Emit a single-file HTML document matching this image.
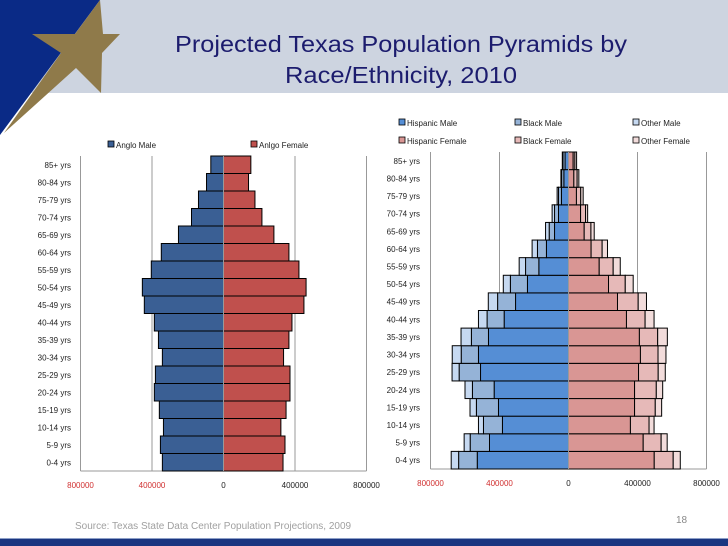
<!DOCTYPE html>
<html><head><meta charset="utf-8"><style>
html,body{margin:0;padding:0;background:#fff}
svg{display:block;font-family:"Liberation Sans",sans-serif}
</style></head><body>
<svg id="s" width="728" height="546" viewBox="0 0 728 546">
<rect x="0" y="0" width="728" height="93" fill="#cdd4e0"/>
<polygon points="0,0 100,0 0,135" fill="#0a2a86"/>
<polygon points="100,0 75,34 32,34 61,53 4,133 76,68 101,93 102,53 120,34 103,34" fill="#8f7a4a"/>
<text x="401" y="52" text-anchor="middle" font-size="23" fill="#1c1c6e" textLength="452" lengthAdjust="spacingAndGlyphs">Projected Texas Population Pyramids by</text>
<text x="401" y="83" text-anchor="middle" font-size="23" fill="#1c1c6e" textLength="232" lengthAdjust="spacingAndGlyphs">Race/Ethnicity, 2010</text>
<g id="left"></g>
<g id="right"></g>
<text x="75" y="529" font-size="10" fill="#a0a0a0">Source: Texas State Data Center Population Projections, 2009</text>
<text x="676" y="523" font-size="10" fill="#888">18</text>
<rect x="0" y="538" width="728" height="1" fill="#8ea0c8"/>
<rect x="0" y="539" width="728" height="7" fill="#1a3580"/>
</svg>
<script>
const ages = ["0-4 yrs","5-9 yrs","10-14 yrs","15-19 yrs","20-24 yrs","25-29 yrs","30-34 yrs","35-39 yrs","40-44 yrs","45-49 yrs","50-54 yrs","55-59 yrs","60-64 yrs","65-69 yrs","70-74 yrs","75-79 yrs","80-84 yrs","85+ yrs"];
const angloMale = [342000,353000,336000,359000,387000,381000,342000,364000,387000,443000,454000,404000,348000,252000,179000,140000,95000,71000];
const angloFemale = [333000,344000,321000,350000,372000,372000,336000,366000,383000,450000,462000,422000,366000,282000,215000,176000,140000,153000];
const hispMale = [529000,458000,383000,406000,431000,510000,522000,464000,373000,307000,238000,172000,128000,81000,58000,41000,27000,20000];
const blackMale = [108000,112000,110000,128000,126000,124000,100000,99000,99000,104000,99000,77000,52000,31000,23000,17000,13000,12000];
const otherMale = [43000,35000,29000,37000,43000,41000,52000,60000,50000,54000,41000,37000,31000,21000,14000,8000,4000,4000];
const hispFemale = [497000,433000,359000,383000,383000,406000,417000,411000,336000,284000,232000,178000,131000,91000,70000,46000,31000,27000];
const blackFemale = [110000,104000,108000,120000,126000,114000,102000,106000,108000,120000,97000,81000,64000,39000,29000,25000,19000,10000];
const otherFemale = [41000,35000,29000,37000,37000,41000,46000,56000,52000,48000,46000,41000,31000,19000,12000,14000,10000,10000];
const tickVals = [-800000,-400000,0,400000,800000];
const tickLabels = ["800000","400000","0","400000","800000"];

const NS="http://www.w3.org/2000/svg";
function mk(parent,tag,attrs,text){const e=document.createElementNS(NS,tag);for(const k in attrs)e.setAttribute(k,attrs[k]);if(text!==undefined)e.textContent=text;parent.appendChild(e);return e;}

function pyramid(g,cfg){
  const x=v=>cfg.cx+v*cfg.scale;
  const rowH=(cfg.bottom-cfg.top)/ages.length;
  const y=i=>cfg.bottom-(i+1)*rowH;
  tickVals.forEach((t,k)=>{
    if(t!==0){const l=mk(g,'line',{x1:x(t),x2:x(t),y1:cfg.top,y2:cfg.bottom,stroke:'#999','stroke-width':1});
    
    }
    const tl=mk(g,'text',{x:x(t),y:cfg.bottom+17,'text-anchor':'middle','font-size':8,fill:t<0?'#d03030':'#222'},tickLabels[k]);
    
    
  });
  mk(g,'line',{x1:x(-800000),x2:x(800000),y1:cfg.bottom,y2:cfg.bottom,stroke:'#999'});
  ages.forEach((a,i)=>{
    let accM=0,accF=0;
    cfg.male.forEach((ser,si)=>{
      const v=ser[i];
      const r=mk(g,'rect',{x:x(-(accM+v)),y:y(i),width:v*cfg.scale,height:rowH,fill:cfg.mColors[si],stroke:'#000','stroke-width':1});
      
      
      accM+=v;
    });
    cfg.female.forEach((ser,si)=>{
      const v=ser[i];
      const r=mk(g,'rect',{x:x(accF),y:y(i),width:v*cfg.scale,height:rowH,fill:cfg.fColors[si],stroke:'#000','stroke-width':1});
      
      
      accF+=v;
    });
    const t=mk(g,'text',{x:cfg.labelX,y:y(i)+rowH/2+3,'text-anchor':'end','font-size':8,fill:'#222'},a);
    
    
  });
  mk(g,'line',{x1:cfg.cx,x2:cfg.cx,y1:cfg.top,y2:cfg.bottom,stroke:'#999'});
}

pyramid(document.getElementById('left'),{cx:223.5,scale:71.5/400000,top:156,bottom:471,labelX:71,
  male:[angloMale],female:[angloFemale],mColors:['#3a5f94'],fColors:['#c0504d']});
pyramid(document.getElementById('right'),{cx:568.5,scale:69/400000,top:152,bottom:469,labelX:420,
  male:[hispMale,blackMale,otherMale],female:[hispFemale,blackFemale,otherFemale],
  mColors:['#558ed5','#95b3d7','#c6d9f1'],fColors:['#d99694','#e6b9b8','#f2dcdb']});

const legends=[
 ["Anglo Male",'#3a5f94',108,147],["Anlgo Female",'#c0504d',251,147],
 ["Hispanic Male",'#558ed5',399,125],["Black Male",'#95b3d7',515,125],["Other Male",'#c6d9f1',633,125],
 ["Hispanic Female",'#d99694',399,143],["Black Female",'#e6b9b8',515,143],["Other Female",'#f2dcdb',633,143]];
const s=document.getElementById('s');
legends.forEach(l=>{
  const g=mk(s,'g',{});
  
  
  mk(g,'rect',{x:l[2],y:l[3]-6,width:6,height:6,fill:l[1],stroke:'#000','stroke-width':0.8});
  mk(g,'text',{x:l[2]+8,y:l[3]+1,'font-size':8,fill:'#222'},l[0]);
});
</script>
</body></html>
